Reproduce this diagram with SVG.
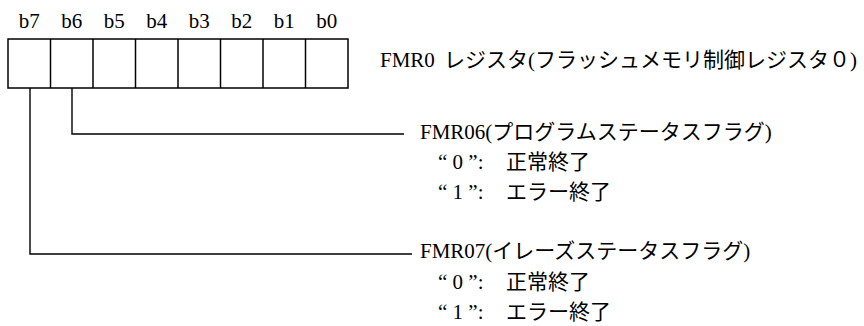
<svg xmlns="http://www.w3.org/2000/svg" width="864" height="326" viewBox="0 0 864 326">
<style>
  text { font-family: "Liberation Serif", "Noto Sans CJK JP", serif; font-size: 21px; fill: #000; }
  .bit { font-size: 21px; text-anchor: middle; }
  .box { fill: #fff; stroke: #000; stroke-width: 1.5; }
  .div { stroke: #000; stroke-width: 1.5; }
  .conn { fill: none; stroke: #000; stroke-width: 1.4; }
</style>
<rect width="864" height="326" fill="#fff"/>
<g id="register">
  <rect class="box" x="8" y="39" width="340" height="49"/>
  <line class="div" x1="50.5" y1="39" x2="50.5" y2="88"/>
  <line class="div" x1="93" y1="39" x2="93" y2="88"/>
  <line class="div" x1="135.5" y1="39" x2="135.5" y2="88"/>
  <line class="div" x1="178" y1="39" x2="178" y2="88"/>
  <line class="div" x1="220.5" y1="39" x2="220.5" y2="88"/>
  <line class="div" x1="263" y1="39" x2="263" y2="88"/>
  <line class="div" x1="305.5" y1="39" x2="305.5" y2="88"/>
  <text class="bit" x="29.3" y="28">b7</text>
  <text class="bit" x="71.8" y="28">b6</text>
  <text class="bit" x="114.3" y="28">b5</text>
  <text class="bit" x="156.8" y="28">b4</text>
  <text class="bit" x="199.3" y="28">b3</text>
  <text class="bit" x="241.8" y="28">b2</text>
  <text class="bit" x="284.3" y="28">b1</text>
  <text class="bit" x="326.8" y="28">b0</text>
</g>
<g id="fmr0-label">
  <text x="380" y="67">FMR0<tspan x="444">レジスタ(フラッシュメモリ制御レジスタ０)</tspan></text>
</g>
<g id="fmr06">
  <text x="420" y="139">FMR06(プログラムステータスフラグ)</text>
  <text x="438" y="169">“ 0 ”:<tspan x="506">正常終了</tspan></text>
  <text x="438" y="199">“ 1 ”:<tspan x="506">エラー終了</tspan></text>
</g>
<g id="fmr07">
  <text x="420" y="258">FMR07(イレーズステータスフラグ)</text>
  <text x="438" y="289">“ 0 ”:<tspan x="506">正常終了</tspan></text>
  <text x="438" y="319">“ 1 ”:<tspan x="506">エラー終了</tspan></text>
</g>
<g id="connectors">
  <polyline class="conn" points="72,88 72,134 404,134"/>
  <polyline class="conn" points="30,88 30,254 412,254"/>
</g>
</svg>
